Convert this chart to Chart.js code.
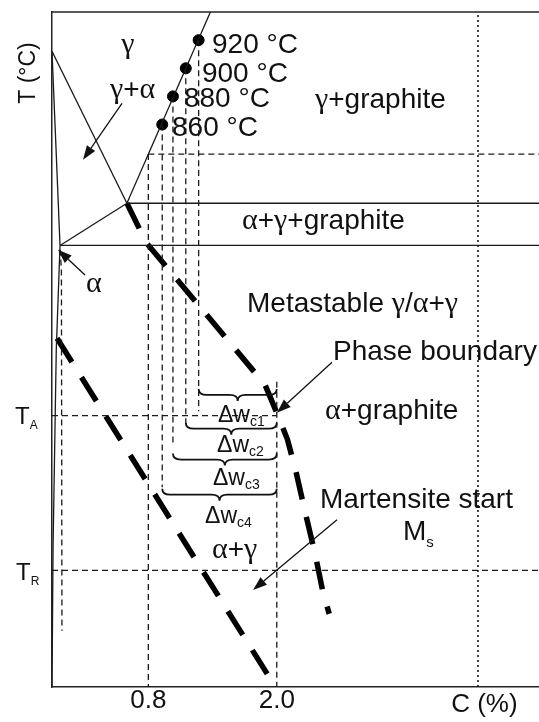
<!DOCTYPE html>
<html>
<head>
<meta charset="utf-8">
<script src="https://cdn.jsdelivr.net/npm/chart.js@4/dist/chart.umd.min.js"></script>
<style>
html,body{margin:0;padding:0;background:#fff;overflow:hidden;width:539px;height:722px;}
#wrap{position:relative;width:539px;height:722px;overflow:hidden;}
#c{display:block;}
</style>
</head>
<body>
<div id="wrap"><canvas id="c"></canvas></div>
<script>
// Axis ranges: carbon content (%) and temperature (°C)
const carbonRange = [-0.1, 4.45];
const tempRange = [460, 940];
const carbonTicks = [0.8, 2.0];

// Characteristic temperatures
const T_A = 653;
const T_R = 543;

// Austenitising temperatures on the Acm line, their carbon contents
// and the lower end of each composition guide
const austTemps = [920, 900, 880, 860];
const austCarbon = [1.27, 1.15, 1.03, 0.93];
const austGuideEnd = [656, 646, 631, 602];

// Solid phase boundaries, [C, T]
const a3Line = [[-0.1, 912], [0.60, 804]];
const alphaSolvusUpper = [[-0.1, 912], [-0.025, 774]];
const alphaSolvusLower = [[-0.025, 774], [-0.06, 700], [-0.09, 560], [-0.1, 460]];
const eutectoidTie = [[-0.025, 774], [0.60, 804]];
const acmLine = [[0.60, 804], [1.38, 940]];
const upperIsotherm = [[0.60, 804], [4.45, 804]];
const lowerIsotherm = [[-0.025, 774], [4.45, 774]];

// Thin dashed guides
const hold839 = [[0.8, 839], [4.45, 839]];
const c08Guide = [[0.8, 839], [0.8, 460]];
const c20Guide = [[2.0, 677], [2.0, 460]];
const taGuide = [[-0.1, T_A], [2.0, T_A]];
const trGuide = [[-0.1, T_R], [4.45, T_R]];
const alphaGuide = [[-0.025, 771], [-0.012, 757], [-0.007, 500]];
const graphiteGuide = [[3.88, 460], [3.88, 940]];

// Heavy dashed curves
const phaseBoundary = [[0.60, 804], [0.78, 776], [1.89, 675], [2.0, 655], [2.10, 636], [2.18, 613], [2.26, 586], [2.36, 554], [2.43, 528], [2.49, 512]];
const msCurve = [[-0.053, 708], [1.946, 465]];

// Composition spans Δw_c: start carbon, end carbon, brace temperature
const spanFrom = [1.27, 1.15, 1.03, 0.93];
const spanTo = [2.0, 2.0, 2.0, 2.0];
const spanTemp = [672, 648, 626, 601];

const SANS = "'Liberation Sans', Arial, sans-serif";
const SERIF = "'Liberation Serif', 'Times New Roman', serif";

// text styles for the label runs
const runStyle = {
  s:  {font: `28px ${SANS}`, dy: 0},
  g:  {font: `30px ${SERIF}`, dy: 0},
  d:  {font: `23px ${SANS}`, dy: 0},
  c:  {font: `14px ${SANS}`, dy: 4},
  ms: {font: `15px ${SANS}`, dy: 7},
  t:  {font: `24px ${SANS}`, dy: 0},
  ts: {font: `12px ${SANS}`, dy: 5}
};

// Region and curve labels anchored in diagram coordinates (left edge, baseline)
const labels = [
  {at: [0.61, 911], align: 'center', runs: [['γ', 'g']]},
  {at: [0.442, 879], runs: [['γ', 'g'], ['+', 's'], ['α', 'g']]},
  {at: [1.395, 911], runs: [['920 °C', 's']]},
  {at: [1.301, 890], runs: [['900 °C', 's']]},
  {at: [1.133, 872.4], runs: [['880 °C', 's']]},
  {at: [1.021, 852], runs: [['860 °C', 's']]},
  {at: [2.357, 871.7], runs: [['γ', 'g'], ['+graphite', 's']]},
  {at: [1.675, 785.7], runs: [['α', 'g'], ['+', 's'], ['γ', 'g'], ['+graphite', 's']]},
  {at: [0.218, 741], runs: [['α', 'g']]},
  {at: [1.722, 726.7], runs: [['Metastable ', 's'], ['γ', 'g'], ['/', 's'], ['α', 'g'], ['+', 's'], ['γ', 'g']]},
  {at: [2.525, 692.5], runs: [['Phase boundary', 's']]},
  {at: [2.451, 650.6], runs: [['α', 'g'], ['+graphite', 's']]},
  {at: [2.404, 587.3], runs: [['Martensite start', 's']]},
  {at: [3.179, 564.5], runs: [['M', 's'], ['s', 'ms']]},
  {at: [1.395, 551.7], runs: [['α', 'g'], ['+', 's'], ['γ', 'g']]},
  {at: [1.451, 648.4], runs: [['Δw', 'd'], ['c1', 'c']]},
  {at: [1.442, 627.1], runs: [['Δw', 'd'], ['c2', 'c']]},
  {at: [1.404, 603.6], runs: [['Δw', 'd'], ['c3', 'c']]},
  {at: [1.330, 576.6], runs: [['Δw', 'd'], ['c4', 'c']]}
];

// Pointer arrows: [from, to] in diagram coordinates
const arrows = [
  [[0.554, 875], [0.19, 835]],
  [[0.208, 753], [-0.044, 771]],
  [[2.516, 691], [2.002, 655]],
  [[2.563, 579], [1.778, 529]]
];

const toPts = arr => arr.map(([x, y]) => ({x, y}));
function lineSet(arr, style) {
  return Object.assign({
    data: toPts(arr), showLine: true, pointRadius: 0, pointHoverRadius: 0,
    borderColor: '#1a1a1a', borderWidth: 1.3, fill: false, tension: 0
  }, style);
}
const solid = {borderWidth: 1.3};
const dashed = {borderWidth: 1.3, borderDash: [6, 4]};
const dotted = {borderWidth: 1.6, borderDash: [2, 3]};
const heavy = {borderWidth: 5.5, borderDash: [28, 18], borderColor: '#000', borderCapStyle: 'butt'};

const datasets = [
  lineSet(a3Line, solid),
  lineSet(alphaSolvusUpper, solid),
  lineSet(alphaSolvusLower, solid),
  lineSet(eutectoidTie, solid),
  lineSet(acmLine, solid),
  lineSet(upperIsotherm, solid),
  lineSet(lowerIsotherm, solid),
  lineSet(hold839, dashed),
  lineSet(c08Guide, dashed),
  lineSet(c20Guide, dashed),
  lineSet(taGuide, dashed),
  lineSet(trGuide, dashed),
  lineSet(alphaGuide, dashed),
  lineSet(graphiteGuide, dotted),
  ...austCarbon.map((c, i) => lineSet([[c, austTemps[i]], [c, austGuideEnd[i]]], dashed)),
  lineSet(phaseBoundary, heavy),
  lineSet(msCurve, heavy),
  {
    data: austCarbon.map((c, i) => ({x: c, y: austTemps[i]})),
    showLine: false, pointRadius: 5.5, pointHoverRadius: 5.5,
    pointBackgroundColor: '#000', pointBorderColor: '#000'
  }
];

function drawRuns(ctx, x, y, runs, align) {
  let total = 0;
  const widths = runs.map(([t, k]) => { ctx.font = runStyle[k].font; const w = ctx.measureText(t).width; total += w; return w; });
  let cx = align === 'center' ? x - total / 2 : x;
  ctx.textAlign = 'left';
  ctx.textBaseline = 'alphabetic';
  runs.forEach(([t, k], i) => {
    ctx.font = runStyle[k].font;
    ctx.fillText(t, cx, y + runStyle[k].dy);
    cx += widths[i];
  });
}

const diagramDecor = {
  id: 'diagramDecor',
  afterDatasetsDraw(chart) {
    const {ctx, chartArea: a, scales: {x, y}} = chart;
    ctx.save();
    ctx.fillStyle = '#111';
    ctx.strokeStyle = '#222';

    // top frame edge
    ctx.lineWidth = 1.5;
    ctx.beginPath(); ctx.moveTo(a.left, a.top); ctx.lineTo(a.right, a.top); ctx.stroke();

    // curly braces marking the Δw_c spans
    ctx.lineWidth = 1.8;
    ctx.strokeStyle = '#111';
    spanFrom.forEach((c0, i) => {
      const x1 = x.getPixelForValue(c0), x2 = x.getPixelForValue(spanTo[i]);
      const yt = y.getPixelForValue(spanTemp[i]);
      const h = 12, r = 8, m = (x1 + x2) / 2, ym = yt + h / 2;
      ctx.beginPath();
      ctx.moveTo(x1, yt);
      ctx.quadraticCurveTo(x1, ym, x1 + r, ym);
      ctx.lineTo(m - r, ym);
      ctx.quadraticCurveTo(m, ym, m, yt + h);
      ctx.quadraticCurveTo(m, ym, m + r, ym);
      ctx.lineTo(x2 - r, ym);
      ctx.quadraticCurveTo(x2, ym, x2, yt);
      ctx.stroke();
    });

    // pointer arrows
    ctx.lineWidth = 1.3;
    arrows.forEach(([p0, p1]) => {
      const xa = x.getPixelForValue(p0[0]), ya = y.getPixelForValue(p0[1]);
      const xb = x.getPixelForValue(p1[0]), yb = y.getPixelForValue(p1[1]);
      const ang = Math.atan2(yb - ya, xb - xa), L = 14, W = 5;
      const bx = xb - L * Math.cos(ang), by = yb - L * Math.sin(ang);
      ctx.beginPath(); ctx.moveTo(xa, ya); ctx.lineTo(bx, by); ctx.stroke();
      ctx.beginPath();
      ctx.moveTo(xb, yb);
      ctx.lineTo(bx + W * Math.sin(ang), by - W * Math.cos(ang));
      ctx.lineTo(bx - W * Math.sin(ang), by + W * Math.cos(ang));
      ctx.closePath(); ctx.fill();
    });

    // region labels
    labels.forEach(l => drawRuns(ctx, x.getPixelForValue(l.at[0]), y.getPixelForValue(l.at[1]), l.runs, l.align));

    // temperature labels on the vertical axis
    drawRuns(ctx, 15, y.getPixelForValue(T_A) + 8, [['T', 't'], ['A', 'ts']]);
    drawRuns(ctx, 16, y.getPixelForValue(T_R) + 10, [['T', 't'], ['R', 'ts']]);

    // axis titles
    ctx.save();
    ctx.translate(29, 73);
    ctx.rotate(-Math.PI / 2);
    ctx.font = `23px ${SANS}`;
    ctx.textAlign = 'center';
    ctx.textBaseline = 'middle';
    ctx.fillText('T (°C)', 0, 0);
    ctx.restore();

    ctx.font = `26px ${SANS}`;
    ctx.textAlign = 'center';
    ctx.textBaseline = 'alphabetic';
    ctx.fillText('C (%)', x.getPixelForValue(3.94), 712);

    ctx.restore();
  }
};

new Chart(document.getElementById('c'), {
  type: 'scatter',
  data: {datasets},
  options: {
    responsive: true,
    maintainAspectRatio: false,
    animation: false,
    events: [],
    layout: {autoPadding: false, padding: {top: 12, left: 0, right: 0, bottom: 0}},
    plugins: {legend: {display: false}, tooltip: {enabled: false}},
    scales: {
      x: {
        type: 'linear', min: carbonRange[0], max: carbonRange[1],
        grid: {display: false},
        border: {display: true, color: '#222', width: 1.5},
        afterBuildTicks: s => { s.ticks = carbonTicks.map(v => ({value: v})); },
        afterFit: s => { s.height = 35; },
        ticks: {
          font: {family: SANS, size: 26}, color: '#111', padding: -10,
          maxRotation: 0, autoSkip: false,
          callback: v => Number(v).toFixed(1)
        }
      },
      y: {
        type: 'linear', min: tempRange[0], max: tempRange[1],
        grid: {display: false},
        border: {display: true, color: '#222', width: 1.5},
        afterBuildTicks: s => { s.ticks = [T_R, T_A].map(v => ({value: v})); },
        afterFit: s => { s.width = 52; },
        ticks: {display: false}
      }
    }
  },
  plugins: [diagramDecor]
});
</script>
</body>
</html>
